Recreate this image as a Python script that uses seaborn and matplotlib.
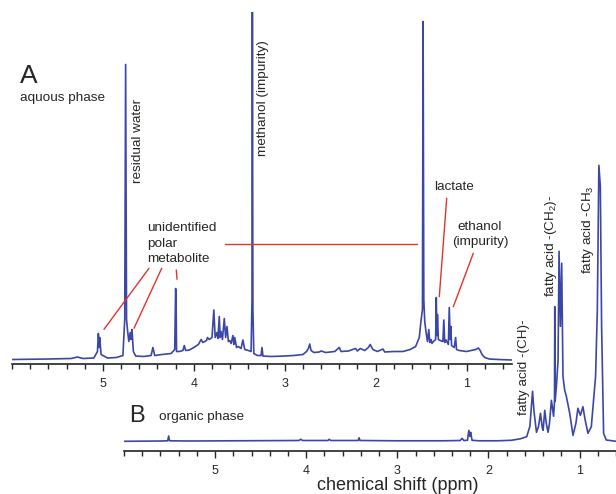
import matplotlib
matplotlib.use("Agg")
import matplotlib.pyplot as plt
from matplotlib.lines import Line2D
from matplotlib.ticker import MultipleLocator
import pandas as pd
import seaborn as sns

# ---- spectrum A: aqueous phase (ppm, intensity above baseline) ----
ppm_a = [6.00, 5.60, 5.35, 5.28, 5.22, 5.10, 5.06, 5.05, 5.04, 5.035, 5.02, 4.95, 4.85,
         4.78, 4.76, 4.75, 4.74, 4.73, 4.715, 4.70, 4.69, 4.68, 4.665, 4.64, 4.55, 4.47,
         4.45, 4.43, 4.35, 4.25, 4.21, 4.20, 4.195, 4.19, 4.16, 4.12, 4.105, 4.09, 4.05,
         4.00, 3.95, 3.92, 3.90, 3.86, 3.85, 3.83, 3.80, 3.78, 3.765, 3.745, 3.735, 3.72,
         3.71, 3.70, 3.685, 3.665, 3.65, 3.635, 3.62, 3.605, 3.59, 3.57, 3.56, 3.55, 3.53,
         3.51, 3.48, 3.46, 3.44, 3.40, 3.37, 3.36, 3.356, 3.35, 3.34, 3.30, 3.26, 3.25,
         3.24, 3.15, 3.00, 2.90, 2.80, 2.76, 2.74, 2.725, 2.71, 2.68, 2.62, 2.60, 2.55,
         2.45, 2.40, 2.38, 2.30, 2.22, 2.20, 2.17, 2.12, 2.08, 2.06, 2.03, 1.98, 1.92,
         1.90, 1.80, 1.70, 1.62, 1.56, 1.52, 1.50, 1.485, 1.478, 1.47, 1.46, 1.445, 1.43,
         1.415, 1.405, 1.39, 1.38, 1.365, 1.34, 1.333, 1.326, 1.32, 1.31, 1.29, 1.26, 1.25,
         1.24, 1.225, 1.20, 1.19, 1.18, 1.172, 1.165, 1.15, 1.135, 1.12, 1.11, 1.08, 1.00,
         0.95, 0.90, 0.87, 0.85, 0.83, 0.80, 0.75, 0.65, 0.50]
int_a = [0, 0.5, 1, 2.5, 1, 1.5, 8, 26, 12, 22, 5, 1.5, 2,
         4, 40, 295, 40, 30, 18, 27, 20, 30, 8, 3.5, 3, 4,
         12, 4, 5, 6, 10, 71, 60, 8, 8, 9, 14, 9, 9.5,
         12, 15, 20, 17, 19, 22, 20, 22, 49.5, 22, 27, 21, 43,
         22, 28, 20, 41, 22, 33, 18, 19, 16, 24, 15, 22, 12,
         13, 11, 19.5, 10, 9, 8, 60, 350, 50, 6, 4, 4, 12,
         3.5, 3, 3.5, 4, 5, 8, 11, 15.5, 9, 7, 7.5, 8.5, 7,
         8, 12, 8, 8.5, 11, 8.5, 11, 9, 12, 15, 10, 8, 10.5,
         7.5, 8, 8, 10, 13, 22, 39.5, 50, 338, 60, 38, 27, 18,
         30, 17, 20, 16, 18, 20, 62, 24, 45, 20, 19, 18, 39.5,
         17, 19.5, 15, 52, 20, 33, 14, 13, 12, 22, 10, 9, 8,
         9, 10, 11.5, 9, 5, 2, 0.5, 0, -0.5]

# ---- spectrum B: organic phase ----
ppm_b = [6.00, 5.60, 5.52, 5.51, 5.50, 5.30, 4.80, 4.30, 4.08, 4.06, 4.04, 3.90, 3.76,
         3.75, 3.73, 3.60, 3.43, 3.42, 3.41, 3.00, 2.50, 2.31, 2.29, 2.27, 2.23, 2.215,
         2.205, 2.195, 2.18, 2.10, 1.90, 1.75, 1.65, 1.58, 1.545, 1.516, 1.50, 1.473,
         1.45, 1.429, 1.41, 1.40, 1.382, 1.365, 1.346, 1.33, 1.309, 1.285, 1.275, 1.272,
         1.268, 1.254, 1.236, 1.225, 1.210, 1.196, 1.182, 1.163, 1.145, 1.108, 1.072,
         1.04, 1.018, 0.991, 0.963, 0.94, 0.908, 0.871, 0.824, 0.805, 0.788, 0.772,
         0.758, 0.736, 0.707, 0.60]
int_b = [0, 0.3, 0.5, 5.3, 0.5, 0.3, 0.5, 0.7, 0.8, 2, 0.8, 0.8, 0.8,
         2, 0.8, 0.8, 0.8, 3.5, 0.8, 0.5, 0.5, 0.8, 3, 0.8, 1, 11,
         5, 9, 1, 0.5, 0.5, 1, 2.5, 4.6, 15, 50, 30, 9,
         15, 28, 14, 11, 31, 18, 9, 18, 41, 25, 40, 134.6,
         40, 55, 81, 190, 115, 178, 65, 51, 45, 28, 6,
         18, 33, 26, 34.6, 22, 8, 14.6, 65, 131, 276, 255,
         115, 8, 1.3, 0]

major_ticks = [5, 4, 3, 2, 1]
W, H = 616, 494
blue = "#3b47a6"
red = "#e3342a"

sns.set_style("white")
plt.rcParams["font.family"] = ["Liberation Sans", "DejaVu Sans"]
plt.rcParams["mathtext.default"] = "regular"


def fx(x, y):
    # image pixel -> figure fraction
    return x / W, 1 - y / H


fig = plt.figure(figsize=(W / 100, H / 100), dpi=100)
ax_a = fig.add_axes([12 / W, (H - 364.3) / H, 500 / W, (364.3 - 12) / H])
ax_b = fig.add_axes([124 / W, (H - 451) / H, 492 / W, (451 - 160) / H])

spectra = [(ax_a, ppm_a, int_a, (6.0, 0.5), (-4.8, 347.5)),
           (ax_b, ppm_b, int_b, (6.0, 0.6), (-9.7, 281.3))]
for ax, ppm, inten, xl, yl in spectra:
    df = pd.DataFrame({"ppm": ppm, "intensity": inten})
    sns.lineplot(data=df, x="ppm", y="intensity", ax=ax, color=blue, linewidth=1.2,
                 estimator=None, sort=False)
    ax.set_xlim(*xl)
    ax.set_ylim(*yl)
    ax.set_facecolor("none")
    for s in ["top", "left", "right"]:
        ax.spines[s].set_visible(False)
    ax.spines["bottom"].set_linewidth(1.2)
    ax.spines["bottom"].set_color("#222222")
    ax.set_yticks([])
    ax.set_ylabel("")
    ax.set_xlabel("")
    ax.set_xticks(major_ticks)
    ax.set_xticklabels([str(t) for t in major_ticks])
    ax.xaxis.set_minor_locator(MultipleLocator(0.2))
    ax.tick_params(axis="x", which="major", direction="out", length=5, width=1,
                   pad=5, labelsize=9, bottom=True)
    ax.tick_params(axis="x", which="minor", direction="out", length=3.5, width=1,
                   bottom=True)

ax_b.set_xlabel("chemical shift (ppm)", fontsize=13)
ax_b.xaxis.set_label_coords((397.5 - 124) / 492, -(485 - 451) / 291)
ax_b.xaxis.label.set_va("center")

# ---- panel labels ----
fig.text(*fx(20, 83), "A", fontsize=19, va="baseline")
fig.text(*fx(20, 101.5), "aquous phase", fontsize=9.7, va="baseline")
fig.text(*fx(129.3, 421.7), "B", fontsize=17, va="baseline")
fig.text(*fx(159, 419.5), "organic phase", fontsize=9.7, va="baseline")

# ---- peak annotations ----
lab = dict(fontsize=9.7, ha="center", va="center")
fig.text(*fx(138, 140.5), "residual water", rotation=90, **lab)
fig.text(*fx(263.3, 97.9), "methanol (impurity)", rotation=90, **lab)
fig.text(*fx(147, 243.5), "unidentified\npolar\nmetabolite", fontsize=9.7,
         ha="left", va="center", linespacing=1.38)
fig.text(*fx(454, 187.3), "lactate", **lab)
fig.text(*fx(480, 234.2), "ethanol\n(impurity)", linespacing=1.35, **lab)
fig.text(*fx(524, 367.5), "fatty acid -(CH)-", rotation=90, **lab)
fig.text(*fx(550.7, 245.8), "fatty acid -(CH$_2$)-", rotation=90, **lab)
fig.text(*fx(588.3, 230), "fatty acid -CH$_3$", rotation=90, **lab)

pointers = [((149, 268.3), (104, 329.3)),
            ((161.7, 268.3), (134, 328.3)),
            ((176.3, 270), (177, 279.3)),
            ((225, 243.5), (416.7, 243.5)),
            ((446.7, 198.3), (439.3, 296.7)),
            ((473.3, 253.3), (453.3, 306.7))]
for p0, p1 in pointers:
    (x0, y0), (x1, y1) = fx(*p0), fx(*p1)
    fig.add_artist(Line2D([x0, x1], [y0, y1], color=red, linewidth=1.0,
                          transform=fig.transFigure))

fig.savefig("out.png", dpi=100)
